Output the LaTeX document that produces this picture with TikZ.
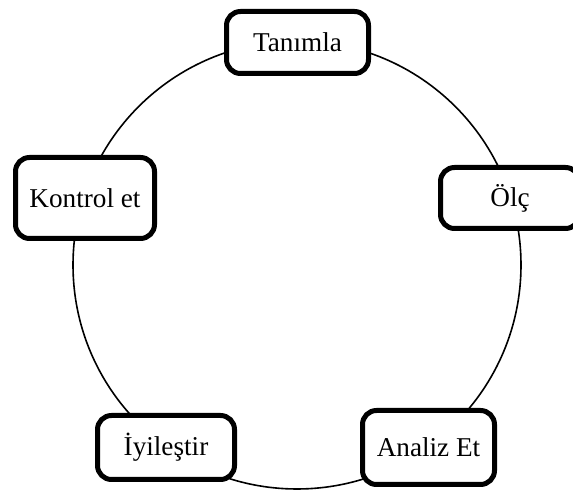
\documentclass[tikz,border=0pt]{standalone}
\usepackage{fontspec}
\setmainfont{Liberation Serif}
\usetikzlibrary{calc}

\tikzset{stage/.style={draw,line width=2.5pt,rounded corners=7pt,fill=white,
  inner sep=0pt,font=\fontsize{13.6}{16}\selectfont}}

\begin{document}
\begin{tikzpicture}[x=0.5pt,y=-0.5pt]
\useasboundingbox (0,0) rectangle (573,490);
\clip (0,0) rectangle (573,490);

\coordinate (O) at (297,265);
\draw[line width=0.8pt] (O) circle[radius=224];

\node[stage,minimum width=71pt,minimum height=31pt] (tanimla) at (297.5,42.5) {Tanımla};
\node[stage,minimum width=69.5pt,minimum height=30.5pt] (olc) at (510,198) {Ölç};
\node[stage,minimum width=66pt,minimum height=37pt] (analiz) at (428.5,447.5) {Analiz Et};
\node[stage,minimum width=68.5pt,minimum height=32pt] (iyilestir) at (166,447.5) {İyileştir};
\node[stage,minimum width=69.5pt,minimum height=40.5pt] (kontrol) at (85,198) {Kontrol et};

\end{tikzpicture}
\end{document}
